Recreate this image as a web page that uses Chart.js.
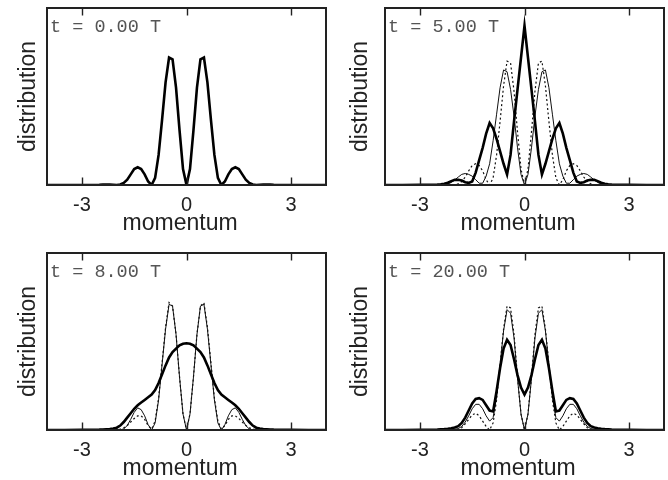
<!DOCTYPE html>
<html><head><meta charset="utf-8">
<script src="https://cdn.jsdelivr.net/npm/chart.js@4/dist/chart.umd.min.js"></script>
<style>
html,body{margin:0;padding:0;background:#fff;overflow:hidden;width:668px;height:480px;position:relative;}
canvas{position:absolute;}
</style></head><body>
<canvas id="c0" width="330" height="240" style="left:0px;top:0px;width:330px;height:240px"></canvas>
<canvas id="c1" width="330" height="240" style="left:338px;top:0px;width:330px;height:240px"></canvas>
<canvas id="c2" width="330" height="240" style="left:0px;top:245px;width:330px;height:240px"></canvas>
<canvas id="c3" width="330" height="240" style="left:338px;top:245px;width:330px;height:240px"></canvas>
<script>
// momentum grid (shared x values)
const momentum = [-4, -3.5, -3, -2.5, -2.4, -2.3, -2.2, -2.1, -2.0, -1.9, -1.8, -1.7, -1.6, -1.5, -1.4, -1.3, -1.2, -1.1, -1.0, -0.9, -0.8, -0.7, -0.6, -0.5, -0.4, -0.3, -0.2, -0.1, 0, 0.1, 0.2, 0.3, 0.4, 0.5, 0.6, 0.7, 0.8, 0.9, 1.0, 1.1, 1.2, 1.3, 1.4, 1.5, 1.6, 1.7, 1.8, 1.9, 2.0, 2.1, 2.2, 2.3, 2.4, 2.5, 3, 3.5, 4];
const xTickValues = [-3, 0, 3];
const panelLabels = ['t = 0.00 T', 't = 5.00 T', 't = 8.00 T', 't = 20.00 T'];

// t = 0.00 T
const t0Thick = [0, 0, 0,
  0.001, 0.002, 0.002, 0.002, 0.001, 0, 0.003, 0.012, 0.03, 0.06, 0.09, 0.10, 0.09, 0.06, 0.02, 0, 0.04, 0.17, 0.37, 0.58, 0.72, 0.71, 0.55, 0.31, 0.09,
  0,
  0.09, 0.31, 0.55, 0.71, 0.72, 0.58, 0.37, 0.17, 0.04, 0, 0.02, 0.06, 0.09, 0.10, 0.09, 0.06, 0.03, 0.012, 0.003, 0, 0.001, 0.002, 0.002, 0.002, 0.001,
  0, 0, 0];

// t = 5.00 T
const t5Thick = [0, 0, 0.001,
  0.002, 0.004, 0.007, 0.013, 0.022, 0.029, 0.03, 0.025, 0.016, 0.012, 0.02, 0.07, 0.14, 0.21, 0.29, 0.35, 0.32, 0.26, 0.19, 0.12, 0.06, 0.17, 0.36, 0.54, 0.72,
  0.90,
  0.72, 0.54, 0.36, 0.17, 0.06, 0.12, 0.19, 0.26, 0.32, 0.35, 0.29, 0.21, 0.14, 0.07, 0.02, 0.012, 0.016, 0.025, 0.03, 0.029, 0.022, 0.013, 0.007, 0.004, 0.002,
  0.001, 0, 0];
const t5Thin = [0, 0, 0,
  0.001, 0.001, 0.002, 0.006, 0.014, 0.028, 0.045, 0.06, 0.065, 0.06, 0.05, 0.03, 0.01, 0.01, 0.05, 0.12, 0.25, 0.40, 0.55, 0.65, 0.64, 0.54, 0.39, 0.21, 0.06,
  0,
  0.06, 0.21, 0.39, 0.54, 0.64, 0.65, 0.55, 0.40, 0.25, 0.12, 0.05, 0.01, 0.01, 0.03, 0.05, 0.06, 0.065, 0.06, 0.045, 0.028, 0.014, 0.006, 0.002, 0.001, 0.001,
  0, 0, 0];
const t5Dotted = [0, 0, 0,
  0.001, 0.001, 0.002, 0.002, 0.001, 0, 0.006, 0.02, 0.045, 0.08, 0.11, 0.12, 0.11, 0.08, 0.03, 0, 0.04, 0.17, 0.36, 0.56, 0.70, 0.69, 0.53, 0.30, 0.09,
  0,
  0.09, 0.30, 0.53, 0.69, 0.70, 0.56, 0.36, 0.17, 0.04, 0, 0.03, 0.08, 0.11, 0.12, 0.11, 0.08, 0.045, 0.02, 0.006, 0, 0.001, 0.002, 0.002, 0.001, 0.001,
  0, 0, 0];

// t = 8.00 T
const t8Thick = [0, 0, 0.001,
  0.002, 0.003, 0.004, 0.005, 0.008, 0.013, 0.025, 0.045, 0.07, 0.095, 0.12, 0.14, 0.155, 0.17, 0.185, 0.2, 0.225, 0.265, 0.315, 0.365, 0.41, 0.44, 0.46, 0.478, 0.487,
  0.49,
  0.487, 0.478, 0.46, 0.44, 0.41, 0.365, 0.315, 0.265, 0.225, 0.2, 0.185, 0.17, 0.155, 0.14, 0.12, 0.095, 0.07, 0.045, 0.025, 0.013, 0.008, 0.005, 0.004, 0.003, 0.002,
  0.001, 0, 0];
const t8Thin = [0, 0, 0,
  0, 0, 0, 0, 0, 0, 0.001, 0.006, 0.025, 0.06, 0.10, 0.125, 0.115, 0.08, 0.03, 0, 0.04, 0.17, 0.37, 0.57, 0.71, 0.70, 0.54, 0.30, 0.09,
  0,
  0.09, 0.30, 0.54, 0.70, 0.71, 0.57, 0.37, 0.17, 0.04, 0, 0.03, 0.08, 0.115, 0.125, 0.10, 0.06, 0.025, 0.006, 0.001, 0, 0, 0, 0, 0, 0,
  0, 0, 0];
const t8Dotted = [0, 0, 0,
  0, 0, 0, 0, 0.001, 0.002, 0.005, 0.012, 0.025, 0.045, 0.065, 0.08, 0.08, 0.06, 0.025, 0.005, 0.05, 0.18, 0.38, 0.58, 0.72, 0.70, 0.54, 0.30, 0.09,
  0,
  0.09, 0.30, 0.54, 0.70, 0.72, 0.58, 0.38, 0.18, 0.05, 0.005, 0.025, 0.06, 0.08, 0.08, 0.065, 0.045, 0.025, 0.012, 0.005, 0.002, 0.001, 0, 0, 0, 0,
  0, 0, 0];

// t = 20.00 T
const t20Thick = [0, 0, 0.001,
  0.003, 0.004, 0.005, 0.007, 0.01, 0.014, 0.022, 0.04, 0.07, 0.11, 0.15, 0.175, 0.18, 0.17, 0.14, 0.11, 0.105, 0.22, 0.35, 0.46, 0.51, 0.48, 0.40, 0.31, 0.24,
  0.20,
  0.24, 0.31, 0.40, 0.48, 0.51, 0.46, 0.35, 0.22, 0.105, 0.11, 0.14, 0.17, 0.18, 0.175, 0.15, 0.11, 0.07, 0.04, 0.022, 0.014, 0.01, 0.007, 0.005, 0.004, 0.003,
  0.001, 0, 0];
const t20Thin = [0, 0, 0,
  0, 0, 0.001, 0.001, 0.002, 0.004, 0.008, 0.02, 0.045, 0.08, 0.12, 0.145, 0.145, 0.12, 0.08, 0.05, 0.07, 0.19, 0.37, 0.56, 0.68, 0.66, 0.52, 0.29, 0.09,
  0,
  0.09, 0.29, 0.52, 0.66, 0.68, 0.56, 0.37, 0.19, 0.07, 0.05, 0.08, 0.12, 0.145, 0.145, 0.12, 0.08, 0.045, 0.02, 0.008, 0.004, 0.002, 0.001, 0.001, 0, 0,
  0, 0, 0];
const t20Dotted = [0, 0, 0,
  0.001, 0.001, 0.001, 0.001, 0.001, 0, 0.004, 0.013, 0.035, 0.06, 0.085, 0.095, 0.08, 0.05, 0.02, 0, 0.04, 0.17, 0.37, 0.57, 0.70, 0.69, 0.54, 0.30, 0.09,
  0,
  0.09, 0.30, 0.54, 0.69, 0.70, 0.57, 0.37, 0.17, 0.04, 0, 0.02, 0.05, 0.08, 0.095, 0.085, 0.06, 0.035, 0.013, 0.004, 0, 0.001, 0.001, 0.001, 0.001, 0.001,
  0, 0, 0];

Chart.defaults.font.family = '"Liberation Sans", Arial, Helvetica, sans-serif';

function toXY(arr) { return momentum.map((m, i) => ({ x: m, y: arr[i] })); }

const framePlugin = {
  id: 'frame',
  afterDatasetsDraw(chart, args, opts) {
    const ctx = chart.ctx, a = chart.chartArea, xs = chart.scales.x;
    ctx.save();
    ctx.strokeStyle = '#222';
    ctx.lineWidth = 2;
    ctx.strokeRect(a.left, a.top, a.right - a.left, a.bottom - a.top);
    ctx.lineWidth = 1.4;
    ctx.beginPath();
    xTickValues.forEach(v => {
      const px = Math.round(xs.getPixelForValue(v)) + 0.5;
      ctx.moveTo(px, a.bottom); ctx.lineTo(px, a.bottom - 7.5);
      ctx.moveTo(px, a.top); ctx.lineTo(px, a.top + 7.5);
    });
    ctx.stroke();
    ctx.fillStyle = '#555';
    ctx.font = '18.5px "Liberation Mono", "Courier New", monospace';
    ctx.textBaseline = 'alphabetic';
    ctx.textAlign = 'left';
    ctx.fillText(opts.label, a.left + 3, a.top + 24);
    ctx.restore();
  }
};

function makeChart(id, label, thick, thin, dotted, yPad) {
  const datasets = [{ data: toXY(thick), borderColor: '#000', borderWidth: 2.6 }];
  if (thin) datasets.push({ data: toXY(thin), borderColor: '#111', borderWidth: 1 });
  if (dotted) datasets.push({ data: toXY(dotted), borderColor: '#111', borderWidth: 1.2, borderDash: [2, 2.5] });
  new Chart(document.getElementById(id), {
    type: 'line',
    data: { datasets },
    options: {
      responsive: false, animation: false, devicePixelRatio: 1,
      layout: { padding: { left: 0, right: 4, top: 8, bottom: 0 } },
      elements: { point: { radius: 0 }, line: { tension: 0, fill: false } },
      plugins: { legend: { display: false }, tooltip: { enabled: false }, frame: { label } },
      scales: {
        x: {
          type: 'linear', min: -4, max: 4,
          afterBuildTicks: s => { s.ticks = xTickValues.map(v => ({ value: v })); },
          afterFit: s => { s.height = 55; },
          grid: { display: false, drawTicks: false }, border: { display: false },
          ticks: { padding: 8, color: '#222', font: { size: 20 }, callback: v => String(v), maxRotation: 0, autoSkip: false },
          title: { display: true, text: 'momentum  ', color: '#222', font: { size: 23 }, padding: { top: 0, bottom: 3 } }
        },
        y: {
          min: 0, max: 1,
          afterFit: s => { s.width = 47; },
          grid: { display: false, drawTicks: false }, border: { display: false },
          ticks: { display: false },
          title: { display: true, text: 'distribution', color: '#222', font: { size: 23 }, padding: { top: yPad, bottom: 0 } }
        }
      }
    },
    plugins: [framePlugin]
  });
}

makeChart('c0', panelLabels[0], t0Thick, null, null, 15);
makeChart('c1', panelLabels[1], t5Thick, t5Thin, t5Dotted, 9);
makeChart('c2', panelLabels[2], t8Thick, t8Thin, t8Dotted, 15);
makeChart('c3', panelLabels[3], t20Thick, t20Thin, t20Dotted, 9);
</script>
</body></html>
